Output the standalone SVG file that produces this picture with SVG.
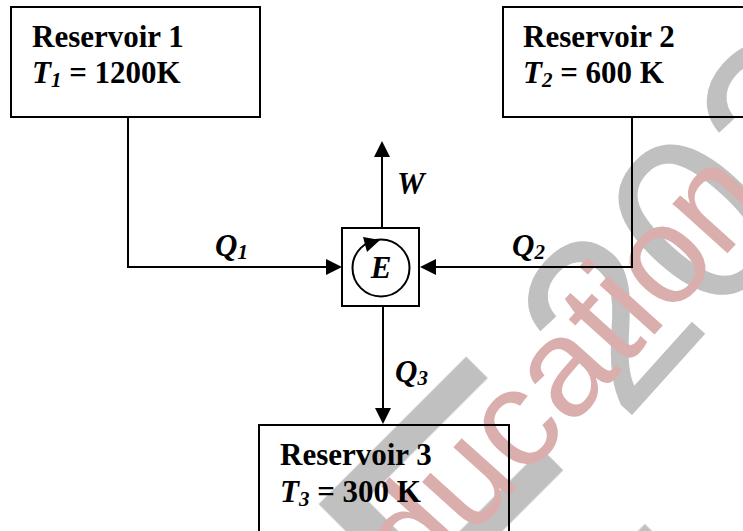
<svg xmlns="http://www.w3.org/2000/svg" width="743" height="531" viewBox="0 0 743 531">
<style>
.box{fill:#fff;stroke:#000;stroke-width:2}
.ln{fill:none;stroke:#000;stroke-width:2}
.t{font-family:"Liberation Serif","Times New Roman",serif;font-weight:bold;font-size:31px;fill:#000}
.i{font-style:italic}
.sub{font-size:21px;font-style:italic}
.wm{font-family:"Liberation Sans",Arial,sans-serif}
</style>
<defs>
<marker id="ah" viewBox="0 0 16 16" refX="8" refY="8" markerWidth="16" markerHeight="16" markerUnits="userSpaceOnUse" orient="auto">
<path d="M0,0 L16,8 L0,16 z" fill="#000"/>
</marker>
</defs>
<rect width="743" height="531" fill="#fff"/>
<g id="connectors">
<path class="ln" d="M128,117 V267 H334" marker-end="url(#ah)"/>
<path class="ln" d="M632,117 V267 H428" marker-end="url(#ah)"/>
<path class="ln" d="M382,228 V149" marker-end="url(#ah)"/>
<path class="ln" d="M383,306 V416" marker-end="url(#ah)"/>
</g>
<g id="reservoir1">
<rect class="box" x="11" y="7" width="249" height="110"/>
<text class="t" x="32" y="47">Reservoir 1</text>
<text class="t" x="32" y="83"><tspan class="i">T</tspan><tspan class="sub" dy="4">1</tspan><tspan dy="-4"> = 1200K</tspan></text>
</g>
<g id="reservoir2">
<rect class="box" x="503" y="7" width="250" height="110"/>
<text class="t" x="523" y="47">Reservoir 2</text>
<text class="t" x="523" y="83"><tspan class="i">T</tspan><tspan class="sub" dy="4">2</tspan><tspan dy="-4"> = 600 K</tspan></text>
</g>
<g id="reservoir3">
<rect class="box" x="259" y="425" width="250" height="120"/>
<text class="t" x="280" y="465">Reservoir 3</text>
<text class="t" x="280" y="502"><tspan class="i">T</tspan><tspan class="sub" dy="4">3</tspan><tspan dy="-4"> = 300 K</tspan></text>
</g>
<g id="engine">
<rect class="box" x="342" y="228" width="77" height="78"/>
<circle class="ln" cx="381" cy="268" r="28.5"/>
<path d="M380,240 L363,237 L367,252 z" fill="#000"/>
<text class="t i" x="381" y="278" text-anchor="middle">E</text>
</g>
<g id="labels">
<text class="t i" x="215" y="256">Q<tspan class="sub" dy="3">1</tspan></text>
<text class="t i" x="512" y="256">Q<tspan class="sub" dy="3">2</tspan></text>
<text class="t i" x="395" y="382">Q<tspan class="sub" dy="3">3</tspan></text>
<text class="t i" x="397" y="194">W</text>
</g>
<g id="watermark" style="mix-blend-mode:multiply">
<text class="wm" transform="translate(490,722) rotate(-45)" font-size="400" fill="#c0c0c0">E</text>
<text class="wm" transform="translate(624,424) rotate(-48)" font-size="240" fill="#c0c0c0">2020</text>
<text class="wm" transform="translate(419,596) rotate(-48)" font-size="140" fill="#dbaeae">ducation</text>
</g>
</svg>
